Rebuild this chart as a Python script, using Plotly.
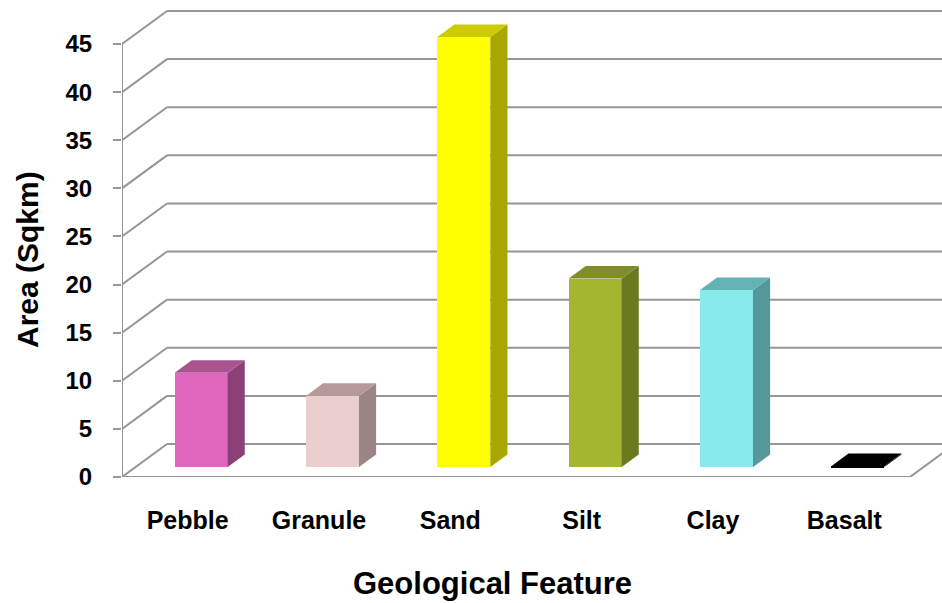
import plotly.graph_objects as go

categories = ["Pebble", "Granule", "Sand", "Silt", "Clay", "Basalt"]
values = [9.8, 7.4, 44.7, 19.6, 18.4, 0.1]
front_colors = ["#E066BE", "#EBCFCE", "#FFFF00", "#A4B630", "#87EAEC", "#000000"]
side_colors = ["#8B4178", "#9A8584", "#A8A800", "#6C7A1F", "#559899", "#000000"]
top_colors = ["#A8528F", "#B59A99", "#CCCC00", "#7F8F25", "#63B3B5", "#000000"]
y_ticks = [0, 5, 10, 15, 20, 25, 30, 35, 40, 45]

# geometry (pixel-derived scales)
W, H = 942, 603
ML, MT, MB, MR = 122, 5, 126, 0
px_per_cat = 131.33
px_per_val = 9.622
plot_w = W - ML - MR
plot_h = H - MT - MB
x_max = plot_w / px_per_cat
y_max = plot_h / px_per_val
n = len(categories)

# depth of 3D box (data units)
DX = 45 / px_per_cat
DY = 33 / px_per_val
f0, f1 = 0.30, 0.68        # bar depth fraction (front/back)
bar_w = 53 / px_per_cat

fig = go.Figure()

grid = dict(color="#969696", width=2)
shapes = []
# back wall + side wall gridlines
for v in y_ticks:
    shapes.append(dict(type="line", xref="x", yref="y", x0=DX, y0=v + DY, x1=x_max + 1, y1=v + DY,
                       line=grid, layer="below"))
    shapes.append(dict(type="line", xref="x", yref="y", x0=0, y0=v, x1=DX, y1=v + DY,
                       line=grid, layer="below"))
# floor front and right edge
shapes.append(dict(type="line", xref="x", yref="y", x0=0, y0=0, x1=n, y1=0, line=grid, layer="below"))
shapes.append(dict(type="line", xref="x", yref="y", x0=n, y0=0, x1=n + DX, y1=DY, line=grid, layer="below"))
# front vertical axis
shapes.append(dict(type="line", xref="x", yref="y", x0=0, y0=0, x1=0, y1=y_ticks[-1], line=grid, layer="below"))
# x tick marks
for i in range(n + 1):
    shapes.append(dict(type="line", xref="x", yref="y", x0=i, y0=0, x1=i, y1=-7 / px_per_val,
                       line=grid, layer="below"))

# faces
for i, (c, v) in enumerate(zip(categories, values)):
    cx = i + 0.5
    xl = cx - bar_w / 2 + f0 * DX
    xr = cx + bar_w / 2 + f0 * DX
    yb = f0 * DY
    yt = yb + v
    ddx = (f1 - f0) * DX
    ddy = (f1 - f0) * DY
    # side face
    fig.add_trace(go.Scatter(x=[xr, xr + ddx, xr + ddx, xr, xr], y=[yb, yb + ddy, yt + ddy, yt, yb],
                             mode="lines", fill="toself", fillcolor=side_colors[i],
                             line=dict(width=0, color=side_colors[i]), hoverinfo="skip", showlegend=False))
    # top face
    fig.add_trace(go.Scatter(x=[xl, xr, xr + ddx, xl + ddx, xl], y=[yt, yt, yt + ddy, yt + ddy, yt],
                             mode="lines", fill="toself", fillcolor=top_colors[i],
                             line=dict(width=0, color=top_colors[i]), hoverinfo="skip", showlegend=False))

# front faces
fig.add_trace(go.Bar(
    x=[i + 0.5 + f0 * DX for i in range(n)],
    y=values,
    base=[f0 * DY] * n,
    width=[bar_w] * n,
    marker=dict(color=front_colors, line=dict(width=0)),
    showlegend=False,
    hovertext=categories,
))

font_b = "Liberation Sans, Arial, sans-serif"
fig.update_layout(
    width=W, height=H,
    margin=dict(l=ML, r=MR, t=MT, b=MB),
    paper_bgcolor="white", plot_bgcolor="white",
    shapes=shapes,
    xaxis=dict(range=[0, x_max], tickvals=[i + 0.5 for i in range(n)], ticktext=[f"<b>{c}</b>" for c in categories],
               showgrid=False, zeroline=False, showline=False, ticks="", ticklabelstandoff=26,
               tickfont=dict(family=font_b, size=25, color="black")),
    yaxis=dict(range=[0, y_max], tickvals=y_ticks, ticktext=[f"<b>{t}</b>" for t in y_ticks],
               showgrid=False, zeroline=False, showline=False, ticks="outside", ticklen=8,
               tickwidth=2, tickcolor="#969696", ticklabelstandoff=16,
               tickfont=dict(family=font_b, size=24, color="black")),
    bargap=0,
    annotations=[
        dict(text="<b>Geological Feature</b>", xref="paper", yref="paper", x=(492 - ML) / plot_w,
             y=-(583 - (H - MB)) / plot_h, showarrow=False, xanchor="center", yanchor="middle",
             font=dict(family=font_b, size=31, color="black")),
        dict(text="<b>Area (Sqkm)</b>", xref="paper", yref="paper", x=-(ML - 27) / plot_w,
             y=(H - MB - 260) / plot_h, showarrow=False, xanchor="center", yanchor="middle", textangle=-90,
             font=dict(family=font_b, size=30, color="black")),
    ],
)

fig.write_html("out.html")
